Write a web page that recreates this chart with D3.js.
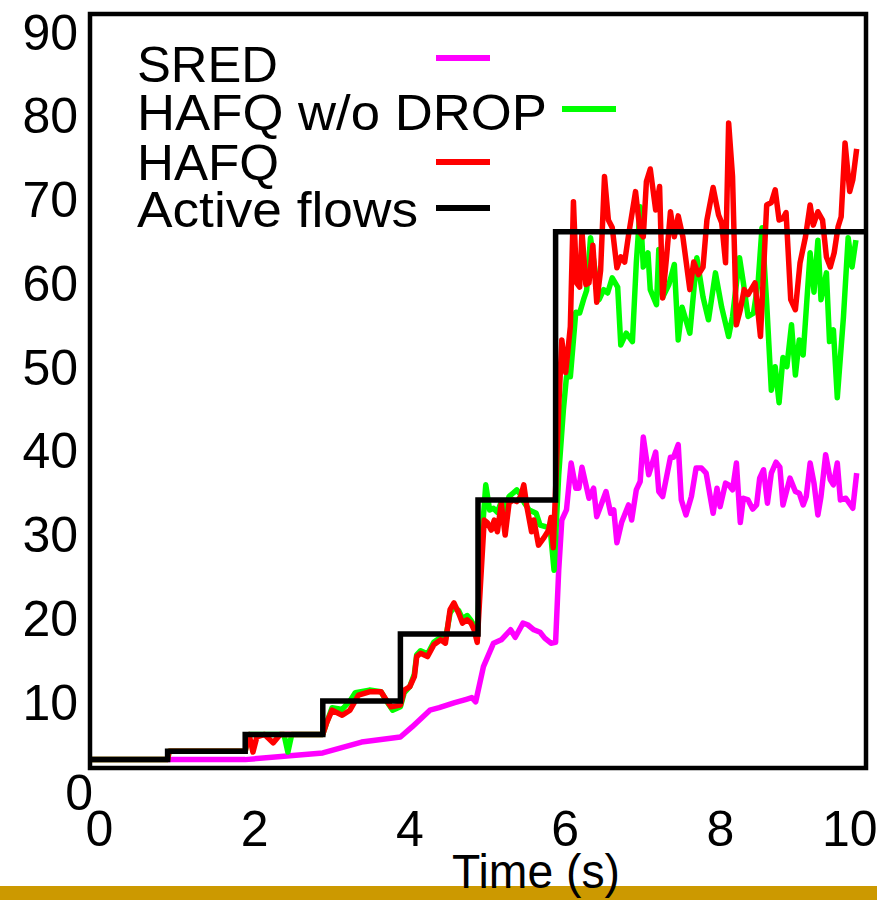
<!DOCTYPE html>
<html>
<head>
<meta charset="utf-8">
<script src="https://cdn.jsdelivr.net/npm/d3@7/dist/d3.min.js"></script>
<style>
  body { margin: 0; background: #fff; }
  text { font-family: "Liberation Sans", Arial, sans-serif; fill: #000; }
</style>
</head>
<body>
<div id="chart"></div>
<script>
// ticks
var xTicks = [0, 2, 4, 6, 8, 10];
var yTicks = [10, 20, 30, 40, 50, 60, 70, 80, 90];

// active flows (step)
var activeT = [0, 1, 2, 3, 4, 5, 6, 10];
var activeV = [1, 2, 4, 8, 16, 32, 64, 64];

// SRED
var sredT = [1.0, 2.0, 2.5, 3.0, 3.5, 4.0, 4.15, 4.38, 4.5, 4.7, 4.85, 4.92, 4.97, 5.07, 5.2, 5.3, 5.42, 5.48, 5.58, 5.64, 5.72, 5.8, 5.86, 5.94, 6.0,
  6.04, 6.08, 6.14, 6.2, 6.26, 6.3, 6.34, 6.43, 6.49, 6.53, 6.65, 6.71, 6.75, 6.79, 6.85, 6.94, 6.98, 7.04, 7.09, 7.13, 7.2, 7.29, 7.33, 7.38,
  7.48, 7.52, 7.58, 7.62, 7.68, 7.75, 7.81, 7.88, 7.94, 8.03, 8.08, 8.12, 8.19, 8.23, 8.28, 8.33, 8.38, 8.42, 8.48, 8.54, 8.59, 8.63, 8.68,
  8.73, 8.78, 8.84, 8.89, 8.93, 9.02, 9.09, 9.14, 9.19, 9.23, 9.28, 9.33, 9.38, 9.42, 9.48, 9.54, 9.58, 9.63, 9.67, 9.74, 9.83, 9.88];
var sredV = [1.0, 1.0, 1.4, 1.8, 3.1, 3.7, 4.9, 6.9, 7.2, 7.8, 8.2, 8.4, 7.9, 12.1, 14.9, 15.3, 16.5, 15.6, 17.3, 17.1, 16.5, 16.2, 15.5, 14.9, 15.0,
  23.6, 29.6, 30.8, 36.4, 33.4, 33.4, 35.9, 32.2, 33.4, 30.0, 33.0, 30.4, 30.8, 26.9, 29.3, 31.4, 29.6, 33.2, 34.2, 39.5, 35.0, 37.7, 33.0, 32.4,
  37.1, 37.1, 38.6, 32.0, 30.2, 32.4, 35.8, 35.8, 35.2, 30.4, 33.4, 31.2, 34.0, 33.8, 33.2, 36.4, 29.3, 32.2, 32.0, 30.9, 31.4, 34.6, 35.6,
  31.6, 35.2, 36.5, 35.9, 31.4, 34.6, 33.0, 32.8, 31.4, 32.4, 36.4, 34.0, 30.2, 32.4, 37.4, 34.4, 33.8, 36.4, 32.0, 32.2, 31.0, 35.2];

// HAFQ w/o DROP
var nodropT = [0, 1, 1.02, 2, 2.05, 2.5, 2.55, 2.6, 3.0, 3.05, 3.12, 3.25, 3.35, 3.42, 3.6, 3.75, 3.82, 3.9, 4.0, 4.05, 4.12, 4.18, 4.21, 4.26,
  4.35, 4.43, 4.52, 4.58, 4.64, 4.69, 4.75, 4.8, 4.86, 4.91, 4.95, 4.99, 5.03, 5.1, 5.15, 5.2, 5.25, 5.3, 5.35, 5.4, 5.45, 5.5, 5.55, 5.6,
  5.66, 5.75, 5.8, 5.87, 5.93, 5.98, 6.04, 6.1, 6.14, 6.19, 6.26, 6.31, 6.36, 6.4, 6.45, 6.52, 6.56, 6.62, 6.67, 6.73, 6.8, 6.84, 6.91, 6.99,
  7.04, 7.09, 7.13, 7.19, 7.22, 7.3, 7.33, 7.38, 7.46, 7.53, 7.58, 7.63, 7.73, 7.82, 7.9, 7.97, 8.06, 8.14, 8.23, 8.28, 8.37, 8.42, 8.48,
  8.55, 8.61, 8.66, 8.72, 8.78, 8.83, 8.88, 8.93, 8.98, 9.04, 9.09, 9.14, 9.19, 9.28, 9.33, 9.38, 9.42, 9.49, 9.53, 9.58, 9.63, 9.71, 9.77,
  9.82, 9.87];
var nodropV = [1, 1, 2, 2, 4, 4, 1.9, 4, 4, 5.4, 7.2, 7.0, 8.0, 9.0, 9.3, 9.1, 8.0, 6.9, 7.3, 9.0, 9.7, 11.2, 13.5, 14.0,
  13.6, 15.0, 15.6, 15.3, 18.5, 19.2, 18.8, 17.8, 18.2, 17.6, 17.0, 15.6, 25, 33.8, 30.8, 31.0, 30.5, 31.8, 30.6, 32.4, 32.8, 33.2, 32.6, 31.6,
  30.8, 30.4, 29.0, 28.8, 28.6, 23.6, 35, 42.7, 46.7, 46.7, 54.4, 54.3, 55.9, 57, 63.3, 58.6, 55.9, 57.1, 56.7, 58.5, 57.4, 50.5, 51.9, 50.9,
  60.3, 67.0, 59.8, 61.5, 57.1, 55.3, 61.9, 56.2, 57.7, 60.1, 51.1, 55.0, 51.9, 60.9, 56.2, 53.5, 59.1, 55.0, 51.5, 53.9, 60.9, 57.9, 53.9,
  54.3, 58.0, 64.5, 55.5, 45.1, 47.9, 43.6, 49.0, 47.9, 52.9, 46.9, 51.1, 49.3, 61.5, 56.8, 63.0, 55.9, 59.1, 50.9, 52.3, 44.2, 53.9, 63.3,
  59.8, 63.0];

// HAFQ
var hafqT = [0, 1, 1.02, 2, 2.05, 2.1, 2.15, 2.25, 2.36, 2.45, 3.0, 3.05, 3.12, 3.25, 3.35, 3.46, 3.6, 3.75, 3.82, 3.88, 4.0, 4.05, 4.12, 4.18,
  4.21, 4.26, 4.35, 4.43, 4.52, 4.58, 4.64, 4.69, 4.75, 4.8, 4.86, 4.91, 4.95, 4.99, 5.03, 5.08, 5.12, 5.17, 5.21, 5.25, 5.3, 5.35, 5.4,
  5.45, 5.5, 5.55, 5.59, 5.63, 5.69, 5.72, 5.78, 5.85, 5.91, 5.94, 5.97, 6.01, 6.04, 6.08, 6.13, 6.19, 6.23, 6.27, 6.31, 6.34, 6.39, 6.43,
  6.48, 6.53, 6.58, 6.63, 6.68, 6.73, 6.79, 6.84, 6.89, 6.94, 7.03, 7.09, 7.13, 7.17, 7.22, 7.29, 7.34, 7.38, 7.43, 7.48, 7.53, 7.58, 7.64,
  7.73, 7.78, 7.84, 7.9, 7.95, 8.03, 8.1, 8.14, 8.19, 8.23, 8.28, 8.33, 8.38, 8.43, 8.48, 8.57, 8.64, 8.72, 8.78, 8.83, 8.88, 8.93, 8.97,
  9.03, 9.09, 9.15, 9.22, 9.28, 9.32, 9.38, 9.44, 9.49, 9.54, 9.59, 9.64, 9.68, 9.73, 9.79, 9.83, 9.88];
var hafqV = [1, 1, 2, 2, 4, 1.9, 3.7, 4, 3.0, 4, 4, 5.4, 6.9, 6.3, 6.9, 8.7, 9.1, 9.1, 8.1, 7.3, 7.5, 9.3, 9.7, 10.9,
  13.3, 13.7, 13.3, 14.7, 15.3, 14.9, 18.9, 19.7, 18.5, 17.3, 17.7, 17.3, 16.5, 15.0, 21.6, 29.6, 29.3, 28.4, 29.6, 28.2, 31.6, 27.8, 31.6,
  32.0, 31.8, 32.4, 33.8, 31.2, 28.2, 29.6, 26.6, 27.5, 28.4, 29.9, 26.3, 35.6, 43, 51.1, 47.2, 52.7, 67.6, 57.9, 57.4, 64.0, 57.7, 57.9,
  62.4, 55.6, 59.4, 70.6, 65.4, 64.5, 59.7, 61.0, 60.4, 63.6, 68.8, 63.9, 63.4, 70.0, 71.5, 66.6, 69.4, 56.1, 61.0, 66.4, 63.4, 65.9, 63.4,
  57.1, 60.4, 58.9, 59.8, 65.4, 69.3, 66.0, 65.1, 60.3, 77.0, 70.6, 52.9, 54.7, 57.1, 56.5, 57.9, 51.5, 67.2, 67.5, 69.0, 65.4, 65.6, 66.3,
  55.9, 54.7, 60.3, 63.4, 67.2, 64.8, 66.4, 65.4, 61.0, 59.8, 61.5, 64.6, 65.8, 74.6, 68.8, 70.2, 73.9];

var legendNames = ["SRED", "HAFQ w/o DROP", "HAFQ", "Active flows"];
var seriesColors = ["#ff00ff", "#00ff00", "#ff0000", "#000000"];

function draw() {
	var width = 877, height = 900;

	var svg = d3.select("#chart").append("svg")
		.attr("width", width)
		.attr("height", height);

	var x = d3.scaleLinear().domain([0, 10]).range([90, 866]);
	var y = d3.scaleLinear().domain([0, 90]).range([768, 14]);

	function pairs(ts, vs) {
		return ts.map(function(t, i) { return [t, vs[i]]; });
	}

	var line = d3.line()
		.x(function(d) { return x(d[0]); })
		.y(function(d) { return y(d[1]); });
	var stepLine = d3.line()
		.curve(d3.curveStepAfter)
		.x(function(d) { return x(d[0]); })
		.y(function(d) { return y(d[1]); });

	// y axis labels
	var yAxis = svg.append("g")
		.attr("transform", "translate(78,0)")
		.call(d3.axisLeft(y).tickValues(yTicks).tickSize(0).tickPadding(0));
	yAxis.select(".domain").remove();
	yAxis.selectAll("text")
		.attr("dy", 35)
		.style("font-size", "50px")
		.style("font-family", "'Liberation Sans', Arial, sans-serif")
		.attr("fill", "#000");

	// lonely "0" of the y axis
	svg.append("text")
		.attr("x", 93)
		.attr("y", y(0) + 42)
		.attr("text-anchor", "end")
		.style("font-size", "50px")
		.text("0");

	// x axis labels
	var xAxis = svg.append("g")
		.attr("transform", "translate(0,846)")
		.call(d3.axisBottom(x).tickValues(xTicks).tickSize(0).tickPadding(0));
	xAxis.select(".domain").remove();
	xAxis.selectAll("text")
		.attr("y", 0)
		.attr("dy", 0)
		.attr("dx", function(d) { return d === 10 ? 877 - x(10) : 9; })
		.attr("text-anchor", function(d) { return d === 10 ? "end" : "middle"; })
		.style("font-size", "50px")
		.style("font-family", "'Liberation Sans', Arial, sans-serif")
		.attr("fill", "#000");

	// series, drawn in legend order (black last)
	var data = [pairs(sredT, sredV), pairs(nodropT, nodropV), pairs(hafqT, hafqV)];
	data.forEach(function(d, i) {
		svg.append("path")
			.datum(d)
			.attr("fill", "none")
			.attr("stroke", seriesColors[i])
			.attr("stroke-width", 5.5)
			.attr("stroke-linejoin", "round")
			.attr("d", line);
	});
	svg.append("path")
		.datum(pairs(activeT, activeV))
		.attr("fill", "none")
		.attr("stroke", seriesColors[3])
		.attr("stroke-width", 5.5)
		.attr("d", stepLine);

	// frame
	svg.append("rect")
		.attr("x", x(0))
		.attr("y", y(90))
		.attr("width", x(10) - x(0))
		.attr("height", y(0) - y(90))
		.attr("fill", "none")
		.attr("stroke", "#000")
		.attr("stroke-width", 4.5);

	// legend (text widths as in the picture)
	var legBase = [82, 130, 180, 227];
	var legWidth = [141, 410, 142, 281];
	var legLineY = [58, 109, 162, 208];
	var legLineX = [436, 562, 436, 436];
	legendNames.forEach(function(name, i) {
		svg.append("text")
			.attr("x", 137)
			.attr("y", legBase[i])
			.attr("textLength", legWidth[i])
			.attr("lengthAdjust", "spacingAndGlyphs")
			.style("font-size", "50px")
			.text(name);
		svg.append("line")
			.attr("x1", legLineX[i])
			.attr("x2", legLineX[i] + 54)
			.attr("y1", legLineY[i])
			.attr("y2", legLineY[i])
			.attr("stroke", seriesColors[i])
			.attr("stroke-width", 6);
	});

	// gold bar of the slide
	svg.append("rect")
		.attr("x", 0)
		.attr("y", 886)
		.attr("width", width)
		.attr("height", 14)
		.attr("fill", "#cc9900");

	svg.append("text")
		.attr("x", 536)
		.attr("y", 888)
		.attr("text-anchor", "middle")
		.attr("textLength", 168)
		.attr("lengthAdjust", "spacingAndGlyphs")
		.style("font-size", "48px")
		.text("Time (s)");
}

draw();
</script>
</body>
</html>
